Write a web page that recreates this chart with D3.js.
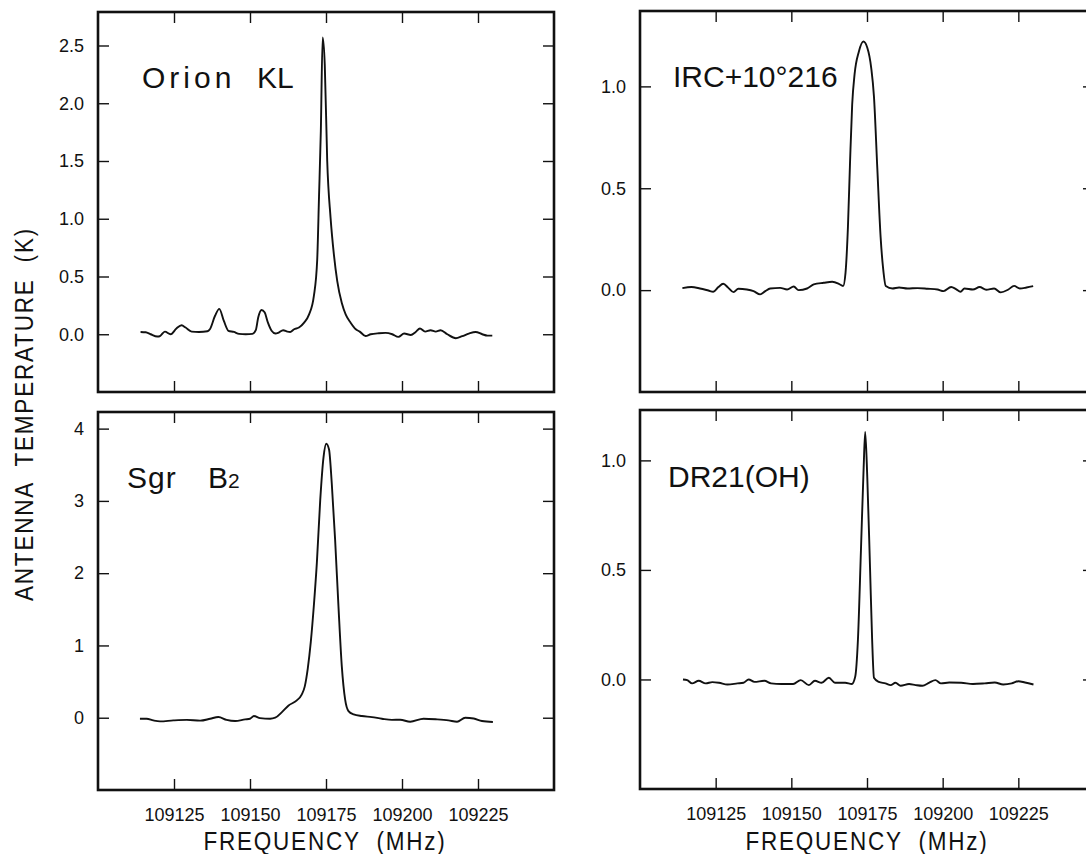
<!DOCTYPE html>
<html>
<head>
<meta charset="utf-8">
<script src="https://cdn.jsdelivr.net/npm/d3@7"></script>
<style>
  body { margin: 0; background: #fff; }
  svg { display: block; }
  text { font-family: "Liberation Sans", Arial, sans-serif; fill: #111; }
  .tick line { stroke: #111; stroke-width: 1.4; }
  .title { white-space: pre; }
</style>
</head>
<body>
<div id="chart"></div>
<script>
// spectra: [frequency MHz, antenna temperature K]
var orionKL = [[109114.0,0.02],[109115.7,0.017],[109117.3,0.0],[109119.5,-0.02],[109120.3,-0.017],[109122.0,0.023],[109123.9,0.0],[109125.8,0.05],[109127.5,0.078],[109128.8,0.058],[109130.8,0.023],[109133.2,0.02],[109136.0,0.026],[109136.8,0.043],[109138.5,0.16],[109139.9,0.22],[109141.4,0.115],[109142.9,0.03],[109144.7,0.02],[109146.4,0.003],[109148.6,0.0],[109150.8,0.003],[109151.9,0.035],[109152.7,0.145],[109153.8,0.21],[109154.8,0.19],[109155.9,0.1],[109157.1,0.03],[109158.4,0.006],[109159.3,0.012],[109160.9,0.035],[109162.3,0.023],[109163.2,0.02],[109164.5,0.043],[109166.1,0.058],[109167.8,0.1],[109169.4,0.17],[109171.0,0.33],[109172.1,0.64],[109172.7,1.19],[109173.3,1.76],[109173.9,2.57],[109174.6,2.33],[109175.4,1.5],[109176.5,1.01],[109177.6,0.69],[109178.7,0.46],[109180.2,0.27],[109181.5,0.17],[109183.1,0.1],[109184.8,0.043],[109186.1,0.023],[109188.0,-0.015],[109189.7,0.0],[109192.4,0.009],[109194.6,0.012],[109196.8,0.0],[109198.8,-0.023],[109200.7,0.006],[109202.9,-0.006],[109204.5,0.02],[109205.9,0.05],[109207.6,0.023],[109209.4,0.035],[109211.1,0.023],[109212.7,0.035],[109214.9,0.0],[109217.7,-0.035],[109219.8,-0.017],[109222.0,0.006],[109224.2,0.02],[109226.4,0.0],[109228.1,-0.012],[109229.7,-0.012]];

var irc10216 = [[109114.0,0.01],[109117.0,0.015],[109119.8,0.008],[109122.6,-0.002],[109124.2,-0.008],[109125.9,0.015],[109127.5,0.031],[109129.2,0.011],[109130.9,-0.01],[109132.5,0.007],[109135.3,0.003],[109137.5,-0.005],[109139.7,-0.021],[109141.4,-0.005],[109143.0,0.008],[109146.3,0.011],[109148.6,0.003],[109150.8,0.018],[109152.4,0.0],[109155.2,0.008],[109157.4,0.028],[109160.7,0.036],[109163.5,0.041],[109165.7,0.031],[109167.1,0.02],[109167.9,0.085],[109168.7,0.31],[109169.4,0.63],[109170.1,0.91],[109170.9,1.06],[109172.3,1.17],[109173.8,1.22],[109175.1,1.19],[109176.4,1.09],[109177.3,0.95],[109178.4,0.6],[109179.5,0.26],[109180.3,0.11],[109181.2,0.02],[109183.4,0.008],[109185.6,0.013],[109188.4,0.008],[109191.7,0.01],[109195.0,0.007],[109198.3,0.003],[109200.3,-0.005],[109202.8,0.015],[109204.4,0.005],[109205.9,-0.008],[109207.2,0.008],[109210.0,0.003],[109212.2,0.015],[109214.4,0.002],[109217.0,0.008],[109219.2,-0.011],[109221.7,0.003],[109223.6,0.021],[109225.5,0.008],[109227.7,0.013],[109229.9,0.02]];

var sgrB2 = [[109113.8,-0.014],[109116.0,-0.014],[109118.2,-0.037],[109120.4,-0.05],[109124.8,-0.037],[109129.2,-0.03],[109133.6,-0.04],[109136.9,-0.014],[109139.6,0.01],[109142.3,-0.03],[109145.1,-0.046],[109148.4,-0.023],[109150.0,-0.014],[109151.3,0.023],[109153.3,-0.005],[109156.6,-0.014],[109158.3,0.0],[109160.5,0.078],[109162.7,0.17],[109165.4,0.24],[109167.0,0.32],[109168.0,0.43],[109169.0,0.68],[109170.0,1.05],[109171.0,1.55],[109172.0,2.15],[109173.1,3.01],[109174.2,3.61],[109175.1,3.79],[109176.0,3.71],[109176.9,3.24],[109178.0,2.46],[109179.1,1.54],[109180.2,0.71],[109181.3,0.25],[109182.4,0.092],[109184.1,0.046],[109186.8,0.023],[109190.1,0.009],[109193.4,-0.014],[109196.7,-0.03],[109199.4,-0.028],[109202.7,-0.055],[109207.1,-0.014],[109211.5,-0.023],[109215.3,-0.037],[109218.1,-0.055],[109220.8,0.0],[109223.6,-0.01],[109226.3,-0.046],[109229.9,-0.06]];

var dr21OH = [[109114.2,0.0],[109115.6,-0.003],[109117.2,-0.018],[109119.4,-0.006],[109121.7,-0.018],[109123.9,-0.012],[109126.1,-0.015],[109128.9,-0.023],[109132.2,-0.018],[109134.2,-0.015],[109135.9,0.0],[109137.8,-0.011],[109141.1,-0.006],[109143.3,-0.018],[109146.7,-0.021],[109150.6,-0.021],[109153.1,-0.003],[109155.8,-0.026],[109157.8,-0.006],[109160.0,-0.015],[109162.4,0.008],[109164.4,-0.015],[109167.8,-0.015],[109170.0,-0.021],[109171.1,0.012],[109172.0,0.18],[109173.0,0.59],[109173.9,0.97],[109174.4,1.13],[109175.1,0.92],[109176.0,0.51],[109176.7,0.18],[109177.3,0.008],[109178.9,-0.011],[109181.1,-0.018],[109182.8,-0.026],[109184.4,-0.015],[109186.1,-0.029],[109188.9,-0.021],[109191.1,-0.026],[109193.3,-0.029],[109195.6,-0.014],[109197.6,-0.003],[109199.4,-0.018],[109202.2,-0.014],[109206.1,-0.015],[109210.0,-0.021],[109213.9,-0.018],[109217.2,-0.014],[109220.0,-0.023],[109222.8,-0.018],[109225.0,-0.008],[109227.2,-0.014],[109230.0,-0.023]];

var freqDomain = [109100, 109250];
var freqTicks = [109125, 109150, 109175, 109200, 109225];

var ticksOrion = [0, 0.5, 1.0, 1.5, 2.0, 2.5];
var ticksIrc = [0, 0.5, 1.0];
var ticksSgr = [0, 1, 2, 3, 4];
var ticksDr21 = [0, 0.5, 1.0];

var panels = [
  {name: "orion", data: orionKL, y: [-0.5, 2.79], ticks: ticksOrion, fmt: ".1f",
   box: {x: 98, y: 12, w: 456, h: 380}, xLabels: false},
  {name: "irc", data: irc10216, y: [-0.5, 1.37], ticks: ticksIrc, fmt: ".1f",
   box: {x: 640, y: 11, w: 454, h: 381}, xLabels: false},
  {name: "sgr", data: sgrB2, y: [-1, 4.23], ticks: ticksSgr, fmt: "d",
   box: {x: 98, y: 412, w: 456, h: 378}, xLabels: true},
  {name: "dr21", data: dr21OH, y: [-0.5, 1.23], ticks: ticksDr21, fmt: ".1f",
   box: {x: 640, y: 410, w: 454, h: 379}, xLabels: true}
];

var width = 1086, height = 854;
var svg = d3.select("#chart").append("svg")
  .attr("width", width)
  .attr("height", height);

var tickLen = 11;

panels.forEach(function(p){
  var b = p.box;
  var x = d3.scaleLinear().domain(freqDomain).range([0, b.w]);
  var y = d3.scaleLinear().domain(p.y).range([b.h, 0]);
  var g = svg.append("g")
    .attr("class", "panel " + p.name)
    .attr("transform", "translate(" + b.x + "," + b.y + ")");

  // inward ticks on all four sides
  var left = g.append("g")
    .call(d3.axisLeft(y).tickValues(p.ticks).tickFormat(d3.format(p.fmt))
      .tickSizeInner(-tickLen).tickSizeOuter(0).tickPadding(14));
  var right = g.append("g").attr("transform", "translate(" + b.w + ",0)")
    .call(d3.axisRight(y).tickValues(p.ticks).tickFormat("")
      .tickSizeInner(-tickLen).tickSizeOuter(0));
  var top = g.append("g")
    .call(d3.axisTop(x).tickValues(freqTicks).tickFormat("")
      .tickSizeInner(-tickLen).tickSizeOuter(0));
  var bottom = g.append("g").attr("transform", "translate(0," + b.h + ")")
    .call(d3.axisBottom(x).tickValues(freqTicks)
      .tickFormat(p.xLabels ? d3.format("d") : "")
      .tickSizeInner(-tickLen).tickSizeOuter(0).tickPadding(18));
  [left, right, top, bottom].forEach(function(a){
    a.select(".domain").remove();
    a.selectAll("text").style("font-size", "18px").style("fill", "#111");
  });

  g.append("rect")
    .attr("x", 0).attr("y", 0)
    .attr("width", b.w).attr("height", b.h)
    .attr("fill", "none")
    .attr("stroke", "#111")
    .attr("stroke-width", 2.6);

  var line = d3.line()
    .x(function(d){ return x(d[0]); })
    .y(function(d){ return y(d[1]); })
    .curve(d3.curveMonotoneX);

  g.append("path")
    .datum(p.data)
    .attr("d", line)
    .attr("fill", "none")
    .attr("stroke", "#111")
    .attr("stroke-width", 1.9)
    .attr("stroke-linejoin", "round");

  p.g = g;
});

// source names
var labelSize = 30;
panels[0].g.append("text").attr("x", 44).attr("y", 76)
  .style("font-size", labelSize + "px").style("letter-spacing", "4px").text("Orion");
panels[0].g.append("text").attr("x", 159).attr("y", 76)
  .style("font-size", labelSize + "px").text("KL");
panels[1].g.append("text").attr("x", 33).attr("y", 76)
  .style("font-size", labelSize + "px").text("IRC+10°216");
panels[2].g.append("text").attr("x", 29).attr("y", 76)
  .style("font-size", labelSize + "px").style("letter-spacing", "1px").text("Sgr");
var b2 = panels[2].g.append("text").attr("x", 110).attr("y", 76)
  .style("font-size", labelSize + "px");
b2.append("tspan").text("B");
b2.append("tspan").style("font-size", "21px").text("2");
panels[3].g.append("text").attr("x", 28).attr("y", 77)
  .style("font-size", labelSize + "px").text("DR21(OH)");

// axis titles
svg.append("text")
  .attr("class", "title")
  .attr("transform", "translate(33,414) rotate(-90) scale(0.9,1)")
  .attr("text-anchor", "middle")
  .style("font-size", "25px")
  .style("letter-spacing", "2px")
  .text("ANTENNA  TEMPERATURE  (K)");

[panels[2], panels[3]].forEach(function(p){
  svg.append("text")
    .attr("class", "title")
    .attr("transform", "translate(" + (p.box.x + 227) + ",850) scale(0.9,1)")
    .attr("text-anchor", "middle")
    .style("font-size", "25px")
    .style("letter-spacing", "2px")
    .text("FREQUENCY  (MHz)");
});
</script>
</body>
</html>
